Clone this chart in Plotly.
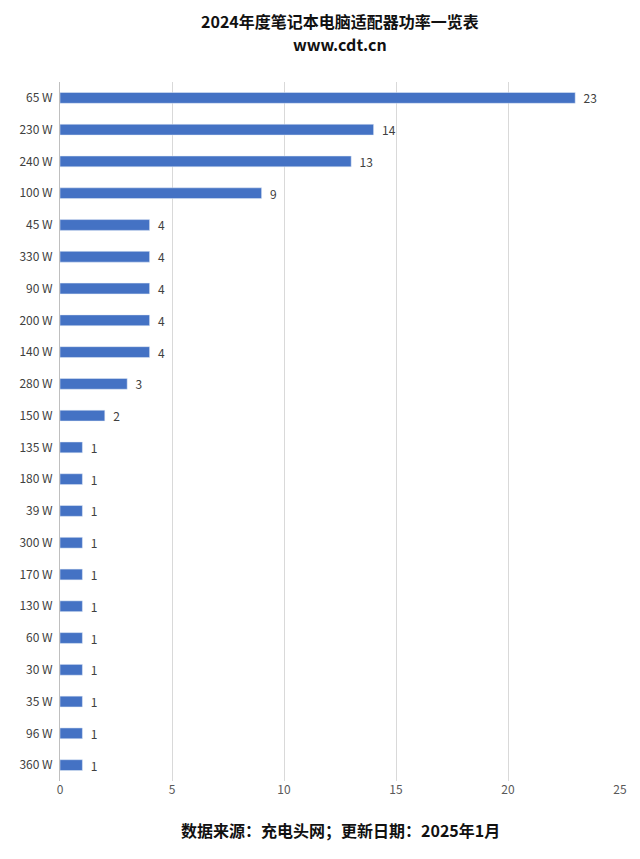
import plotly.graph_objects as go

categories = ["65W","230W","240W","100W","45W","330W","90W","200W","140W","280W","150W",
              "135W","180W","39W","300W","170W","130W","60W","30W","35W","96W","360W"]
values = [23,14,13,9,4,4,4,4,4,3,2,1,1,1,1,1,1,1,1,1,1,1]
labels = [c.replace("W", " W") for c in categories]

fig = go.Figure(go.Bar(
    y=labels, x=values, orientation="h",
    marker_color="#4472C4",
    text=["  " + str(v) for v in values], textposition="outside", constraintext="none",
    textfont=dict(size=12, color="#404040"), cliponaxis=False,
))
fig.update_layout(
    width=640, height=859, paper_bgcolor="white", plot_bgcolor="white",
    margin=dict(l=52, r=28, t=74, b=86),
    bargap=0.66, showlegend=False,
    font=dict(family="Noto Sans CJK SC, sans-serif", color="#404040"),
    annotations=[
        dict(text="<b>2024年度笔记本电脑适配器功率一览表</b>", xref="paper", yref="paper",
             x=0.5, y=1, yshift=61, yanchor="middle", showarrow=False,
             font=dict(size=16, color="#111111")),
        dict(text="<b>www.cdt.cn</b>", xref="paper", yref="paper",
             x=0.5, y=1, yshift=38, yanchor="middle", showarrow=False,
             font=dict(size=16, color="#111111")),
        dict(text="<b>数据来源：充电头网；更新日期：2025年1月</b>",
             xref="paper", yref="paper", x=0.5, y=0, yshift=-49, yanchor="middle",
             showarrow=False, font=dict(size=16, color="#111111"))],
    xaxis=dict(range=[0, 25], dtick=5, showgrid=True, gridcolor="#D9D9D9",
               zeroline=False, tickfont=dict(size=12, color="#595959"), ticks=""),
    yaxis=dict(autorange="reversed", showline=True, linecolor="#BFBFBF",
               tickfont=dict(size=12, color="#404040"), ticks="", ticklabelstandoff=4),
)
fig.write_html("out.html")
